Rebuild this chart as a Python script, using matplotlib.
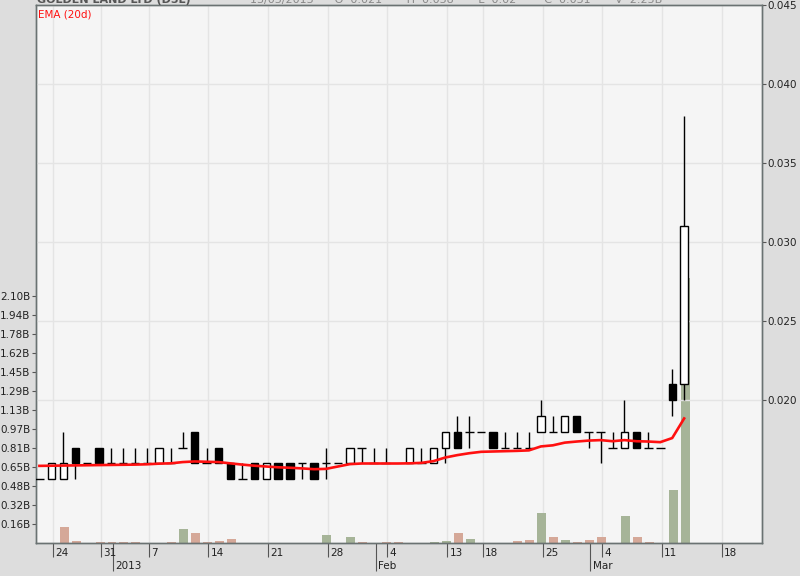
import matplotlib
matplotlib.use("Agg")
import matplotlib.pyplot as plt
import numpy as np
import pandas as pd

# trading days (SGX closed 25 Dec, 1 Jan, 11-12 Feb)
dates = pd.bdate_range("2012-12-21", "2013-03-22")
holidays = pd.to_datetime(["2012-12-25", "2013-01-01", "2013-02-11", "2013-02-12"])
dates = dates[~dates.isin(holidays)]

nan = np.nan
opens = [0.015, 0.015, 0.015, 0.017, 0.016, 0.017, 0.016, 0.016, 0.016, 0.016,
         0.016, 0.016, 0.017, 0.018, 0.016, 0.017, 0.016, 0.015, 0.016, 0.015,
         0.016, 0.016, 0.016, 0.016, 0.016, 0.016, 0.016, 0.017, 0.016, 0.016,
         nan, 0.016, 0.016, 0.016, 0.017, 0.018, 0.018, 0.018, 0.018, 0.017,
         0.017, 0.017, 0.018, 0.018, 0.018, 0.019, 0.018, 0.018, 0.017, 0.017,
         0.018, 0.017, 0.017, 0.021, 0.021]
highs = [0.015, 0.016, 0.018, 0.017, 0.016, 0.017, 0.017, 0.017, 0.017, 0.017,
         0.017, 0.017, 0.018, 0.018, 0.017, 0.017, 0.016, 0.016, 0.016, 0.016,
         0.016, 0.016, 0.016, 0.016, 0.017, 0.016, 0.017, 0.017, 0.017, 0.017,
         nan, 0.017, 0.017, 0.017, 0.018, 0.019, 0.019, 0.018, 0.018, 0.018,
         0.018, 0.018, 0.020, 0.019, 0.019, 0.019, 0.018, 0.018, 0.018, 0.020,
         0.018, 0.018, 0.017, 0.022, 0.038]
lows = [0.015, 0.015, 0.015, 0.015, 0.016, 0.016, 0.016, 0.016, 0.016, 0.016,
        0.016, 0.016, 0.017, 0.016, 0.016, 0.016, 0.015, 0.015, 0.015, 0.015,
        0.015, 0.015, 0.015, 0.015, 0.015, 0.016, 0.016, 0.016, 0.016, 0.016,
        nan, 0.016, 0.016, 0.016, 0.016, 0.017, 0.017, 0.018, 0.017, 0.017,
        0.017, 0.017, 0.018, 0.018, 0.018, 0.018, 0.017, 0.016, 0.017, 0.017,
        0.017, 0.017, 0.017, 0.019, 0.020]
closes = [0.015, 0.016, 0.016, 0.016, 0.016, 0.016, 0.016, 0.016, 0.016, 0.016,
          0.017, 0.016, 0.017, 0.016, 0.016, 0.016, 0.015, 0.015, 0.015, 0.016,
          0.015, 0.015, 0.016, 0.015, 0.016, 0.016, 0.017, 0.017, 0.016, 0.016,
          nan, 0.017, 0.016, 0.017, 0.018, 0.017, 0.018, 0.018, 0.017, 0.017,
          0.017, 0.017, 0.019, 0.018, 0.019, 0.018, 0.018, 0.018, 0.017, 0.018,
          0.017, 0.017, 0.017, 0.020, 0.031]
# volume in billions of shares
volumes = [0, 0, 0.138, 0.020, 0, 0.008, 0.008, 0.008, 0.008, 0,
           0, 0.008, 0.115, 0.081, 0.010, 0.015, 0.032, 0, 0, 0,
           0, 0, 0, 0, 0.064, 0, 0.053, 0.008, 0, 0.008,
           0.008, 0, 0, 0.010, 0.019, 0.088, 0.037, 0, 0, 0,
           0.019, 0.027, 0.257, 0.047, 0.027, 0.006, 0.027, 0.047, 0, 0.232,
           0.055, 0.008, 0, 0.453, 2.255]
ema20 = [0.01584, 0.01585, 0.01586, 0.01587, 0.01588, 0.01589, 0.01590, 0.01591, 0.01592, 0.01594,
         0.01598, 0.01600, 0.01608, 0.01612, 0.01610, 0.01608, 0.01600, 0.01592, 0.01585, 0.01580,
         0.01575, 0.01572, 0.01568, 0.01563, 0.01565, 0.01580, 0.01595, 0.01599, 0.01599, 0.01599,
         0.01599, 0.01600, 0.01603, 0.01614, 0.01637, 0.01652, 0.01664, 0.01673, 0.01675, 0.01677,
         0.01679, 0.01682, 0.01707, 0.01714, 0.01731, 0.01738, 0.01744, 0.01747, 0.01740, 0.01747,
         0.01740, 0.01738, 0.01734, 0.01760, 0.01884]

day_ticks = ["2012-12-24", "2012-12-31", "2013-01-07", "2013-01-14", "2013-01-21", "2013-01-28",
             "2013-02-04", "2013-02-13", "2013-02-18", "2013-02-25", "2013-03-04", "2013-03-11",
             "2013-03-18"]
day_labels = ["24", "31", "7", "14", "21", "28", "4", "13", "18", "25", "4", "11", "18"]
month_ticks = ["2013-01-02", "2013-02-01", "2013-03-01"]
month_labels = ["2013", "Feb", "Mar"]

x = np.arange(len(closes))
o = np.array(opens)
h = np.array(highs)
l = np.array(lows)
c = np.array(closes)

# volume colour: green if close above previous close, else brown
last = pd.Series(c).ffill().shift(1).to_numpy()
vol_colors = ["#a6b498" if (not np.isnan(cc) and cc > pc) else "#d5a898" for cc, pc in zip(c, last)]

fig = plt.figure(figsize=(8, 5.76), dpi=100, facecolor="#dddddd")
ax = fig.add_axes([36 / 800, 33 / 576, 726 / 800, 538 / 576])
ax.set_facecolor("#f5f5f5")
axp = ax.twinx()
axp.patch.set_visible(False)

# volume (bars sit a hair right of the candles, as in the original)
ax.bar(x + 0.08, volumes, width=0.75, color=vol_colors, zorder=2)
ax.set_ylim(0, 4.58)
vt = [k * 2.10 / 13 for k in range(1, 14)]
ax.set_yticks(vt)
ax.set_yticklabels([f"{v:.2f}B" for v in vt])

# candles
ok = ~np.isnan(c)
axp.vlines(x[ok], l[ok], h[ok], color="black", lw=1.0, zorder=3)
up = ok & (c > o)
dn = ok & (c < o)
dj = ok & (c == o)
axp.bar(x[up], (c - o)[up], bottom=o[up], width=0.62, facecolor="white",
        edgecolor="black", lw=1.0, zorder=4)
axp.bar(x[dn], (o - c)[dn], bottom=c[dn], width=0.62, facecolor="black",
        edgecolor="black", lw=1.0, zorder=4)
axp.hlines(c[dj], x[dj] - 0.36, x[dj] + 0.36, color="black", lw=1.0, zorder=4)

axp.plot(x, ema20, color="#ff1010", lw=1.9, zorder=5)

axp.set_ylim(0.01096, 0.045)
pt = [0.020, 0.025, 0.030, 0.035, 0.040, 0.045]
axp.set_yticks(pt)
axp.set_yticklabels([f"{p:.3f}" for p in pt])
axp.grid(axis="y", color="#e4e4e4", lw=1.0)

# x axis
ax.set_xlim(-0.285, 60.52)
day_pos = [dates.get_loc(pd.Timestamp(d)) + 0.15 for d in day_ticks]
mon_pos = [dates.get_loc(pd.Timestamp(d)) + 0.15 for d in month_ticks]
ax.set_xticks(day_pos)
ax.set_xticklabels([])
ax.set_xticks(mon_pos, minor=True)
ax.tick_params(axis="x", which="major", length=10, width=0.8, color="#555555")
ax.tick_params(axis="x", which="minor", length=20.5, width=0.8, color="#555555")
ax.grid(axis="x", which="major", color="#e4e4e4", lw=1.0, zorder=0)
ax.set_axisbelow(True)

for p, lab in zip(day_pos, day_labels):
    ax.annotate(lab, xy=(p, 0), xycoords=("data", "axes fraction"), xytext=(1.6, -3.5),
                textcoords="offset points", ha="left", va="top", fontsize=7.5, color="#222222")
for p, lab in zip(mon_pos, month_labels):
    ax.annotate(lab, xy=(p, 0), xycoords=("data", "axes fraction"), xytext=(1.6, -12.8),
                textcoords="offset points", ha="left", va="top", fontsize=7.5, color="#222222")

ax.tick_params(axis="y", length=3, width=0.8, color="#555555", labelsize=7.5,
               labelcolor="#222222", pad=1)
axp.tick_params(axis="y", length=3, width=0.8, color="#555555", labelsize=7.5,
                labelcolor="#222222", pad=1)

for a in (ax, axp):
    for s in a.spines.values():
        s.set_color("#6a7272")
        s.set_linewidth(1.0)

ax.text(0.003, 0.992, "EMA (20d)", transform=ax.transAxes, color="#ff1010",
        fontsize=7.5, ha="left", va="top")

# header line, mostly cut off at the top edge like the original
fig.text(37 / 800, 1 - 3 / 576, "GOLDEN LAND LTD (D5L)", fontsize=8, fontweight="bold",
         color="#555555", va="baseline")
fig.text(250 / 800, 1 - 3 / 576,
         "13/03/2013      O  0.021       H  0.038       L  0.02        C  0.031       V  2.25B",
         fontsize=8, color="#888888", va="baseline")

fig.savefig("out.png", dpi=100, facecolor=fig.get_facecolor())
